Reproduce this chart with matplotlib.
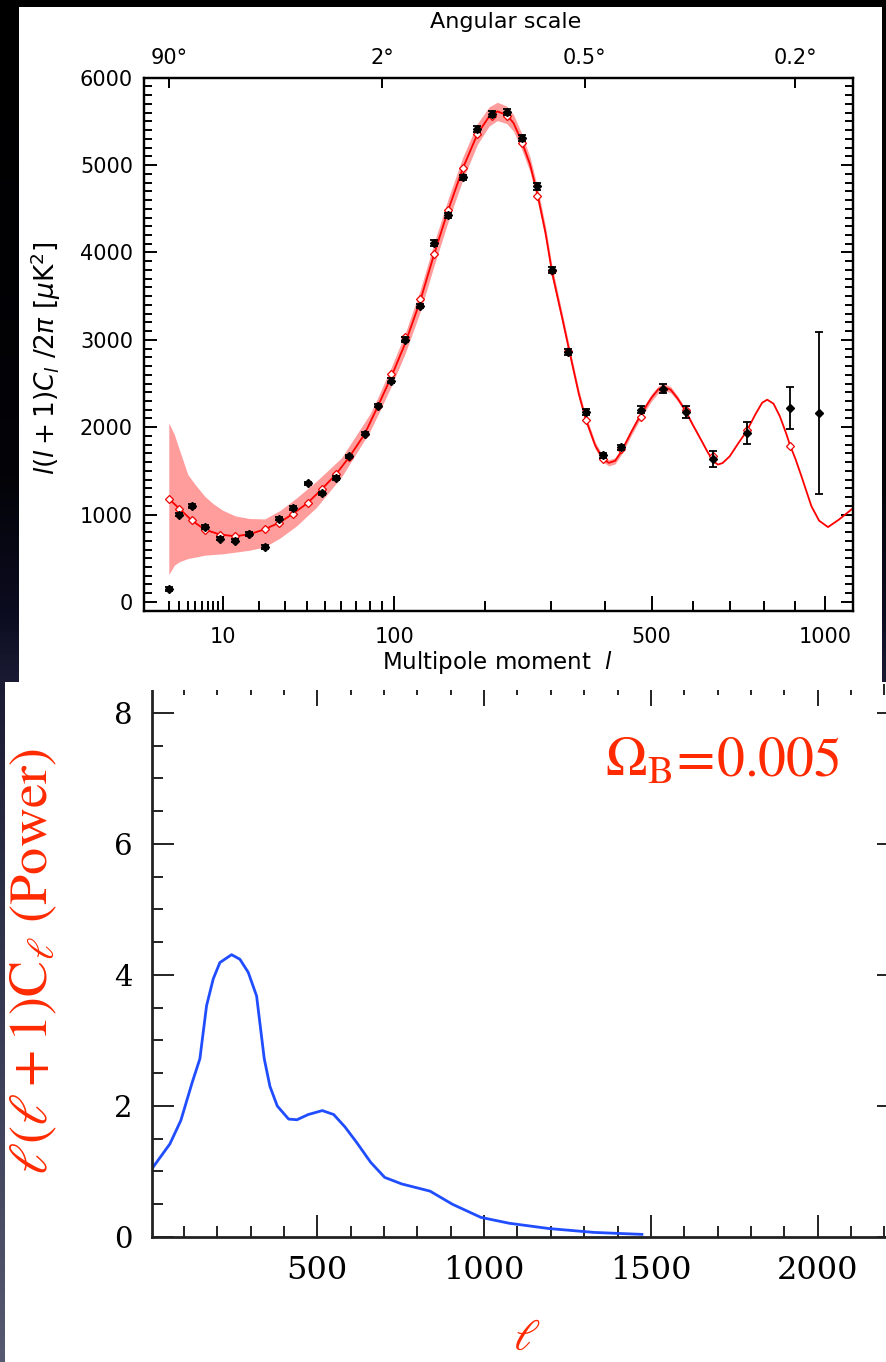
import numpy as np
import matplotlib
matplotlib.use('Agg')
import matplotlib.pyplot as plt
from matplotlib.colors import LinearSegmentedColormap
from matplotlib.patches import Rectangle
from matplotlib.ticker import NullLocator

# ---------------- top panel data (WMAP-style spectrum) ----------------
theory_l = [2, 3, 4.5, 6.5, 9.4, 13, 17, 22, 27.4, 33.4, 40.5, 48.2, 56.5, 65.2, 76, 86.3,
            97.6, 110, 124.3, 139, 154.5, 171.7, 189.9, 205.3, 216.6, 229.9, 240, 252.2, 265,
            276.6, 290, 301.4, 318.7, 332.5, 348.8, 361.3, 380, 395, 407, 420, 433, 455, 476,
            500, 515, 528, 545, 562, 582.6, 600, 620, 640, 655, 667, 680, 700, 725, 748.5,
            775, 795, 810.5, 830, 850, 870, 883, 900, 920, 953.5, 980, 1011, 1050, 1100]
theory_D = [1180, 1069, 935, 829, 772, 752, 775, 832, 906, 1009, 1134, 1294, 1461, 1660, 1919, 2239,
            2580, 2960, 3440, 3985, 4488, 4965, 5357, 5556, 5614, 5575, 5480, 5270, 5010,
            4679, 4230, 3764, 3250, 2840, 2380, 2100, 1790, 1640, 1592, 1615, 1720, 1950, 2150,
            2340, 2430, 2461, 2430, 2330, 2181, 2030, 1870, 1710, 1610, 1572, 1590, 1667, 1820, 1953,
            2150, 2280, 2315, 2270, 2125, 1930, 1790, 1640, 1440, 1096, 930, 857, 943, 1070]

band_l = [2, 2.5, 3, 4, 5, 6.5, 8, 10, 13, 17, 22, 28, 35, 45, 60, 80, 86.3,
          97.6, 110, 124.3, 139, 154.5, 171.7, 189.9, 205.3, 216.6, 229.9, 240, 252.2, 265,
          276.6, 290, 301.4, 318.7, 332.5, 348.8, 361.3, 380, 395, 407, 420, 433, 455, 476,
          500, 515, 528, 545, 562, 582.6, 600, 620, 640, 655]
band_hi = [2049, 1915, 1744, 1458, 1344, 1210, 1126, 1050, 985, 955, 950, 1050, 1190, 1380,
           1650, 2150, 2340, 2690, 3075, 3565, 4115, 4618, 5095, 5477, 5666, 5719, 5675, 5575,
           5360, 5095, 4759, 4305, 3834, 3310, 2895, 2430, 2145, 1830, 1675, 1627, 1650, 1755,
           1988, 2190, 2380, 2470, 2501, 2465, 2360, 2206, 2050, 1885, 1720, 1615]
band_lo = [314, 421, 460, 497, 513, 535, 543, 551, 570, 592, 630, 735, 870, 1080,
           1430, 1950, 2140, 2470, 2845, 3315, 3855, 4358, 4835, 5237, 5446, 5509, 5475, 5385,
           5180, 4925, 4599, 4155, 3694, 3190, 2785, 2330, 2055, 1750, 1605, 1557, 1580, 1685,
           1912, 2110, 2300, 2390, 2421, 2395, 2300, 2156, 2010, 1855, 1700, 1605]

data_l = [2, 3, 4.5, 6.5, 9.4, 13, 17, 22, 27.4, 33.4, 40.5, 48.2, 56.5, 65.2, 76, 86.3,
          97.6, 110.2, 124.3, 139, 154.5, 171.7, 189.9, 209.8, 229.9, 252.2, 276.6, 301.4,
          328.8, 361.3, 394.9, 433.2, 475.8, 525.6, 582.6, 654.8, 748.5, 883, 980]
data_D = [150, 1000, 1100, 860, 726, 703, 780, 631, 955, 1077, 1358, 1244, 1416, 1667, 1927, 2247,
          2533, 3002, 3390, 4107, 4423, 4862, 5414, 5582, 5612, 5308, 4755, 3802,
          2864, 2170, 1680, 1770, 2200, 2440, 2170, 1640, 1930, 2222, 2165]
data_err = [20, 20, 20, 20, 20, 20, 20, 20, 20, 20, 20, 20, 20, 20, 20, 20,
            25, 25, 25, 30, 30, 30, 35, 35, 35, 35, 35, 35,
            35, 35, 30, 30, 40, 50, 70, 90, 127, 238, 925]

diam_l = data_l[:-1]
diam_D = [1180, 1069, 935, 829, 772, 752, 775, 832, 906, 1009, 1134, 1294, 1461, 1660, 1919, 2239,
          2610, 3030, 3467, 3985, 4488, 4965, 5357, 5560, 5563, 5251, 4648, 3790,
          2870, 2087, 1640, 1745, 2118, 2440, 2201, 1675, 1972, 1782]

x_major = [10, 100, 500, 1000]
x_minor = [2, 3, 4, 5, 6, 7, 8, 9, 20, 30, 40, 50, 60, 70, 80, 90, 200, 300, 400,
           600, 700, 800, 900]
ang_deg = [90, 2, 0.5, 0.2]
ang_lab = ['90°', '2°', '0.5°', '0.2°']

# ---------------- bottom panel data (Omega_B = 0.005) ----------------
low_l = [4, 58, 91, 125, 148, 168, 188, 208, 243, 268, 293, 318, 341, 358, 380, 414, 439,
         473, 515, 549, 583, 617, 660, 702, 753, 838, 905, 990, 1075, 1193, 1329, 1473]
low_P = [1.04, 1.42, 1.78, 2.36, 2.72, 3.53, 3.94, 4.19, 4.31, 4.24, 4.04, 3.68, 2.72, 2.30,
         2.00, 1.80, 1.79, 1.87, 1.93, 1.87, 1.68, 1.45, 1.14, 0.91, 0.81, 0.70, 0.50,
         0.30, 0.21, 0.13, 0.07, 0.04]

W, H = 887, 1362
fig = plt.figure(figsize=(W / 100, H / 100), dpi=100)
fig.patch.set_facecolor('black')


def fr(x0, y0, x1, y1):
    return [x0 / W, 1 - y1 / H, (x1 - x0) / W, (y1 - y0) / H]


# background gradient
bga = fig.add_axes([0, 0, 1, 1], zorder=-10)
grad = np.linspace(0, 1, 512).reshape(-1, 1)
cmap = LinearSegmentedColormap.from_list('bgc', [(0, '#000000'), (0.35, '#030308'),
                                                 (0.45, '#0c0c20'), (0.5, '#1a1b33'),
                                                 (0.8, '#3e4159'), (1.0, '#555a70')])
bga.imshow(grad, aspect='auto', cmap=cmap, extent=[0, 1, 0, 1], origin='upper')
bga.set_axis_off()

# white panels
fig.add_artist(Rectangle((5 / W, 0), 882 / W, 680 / H, transform=fig.transFigure,
                         facecolor='white', edgecolor='none', zorder=0))
fig.add_artist(Rectangle((19 / W, 1 - 690 / H), 863 / W, 683 / H, transform=fig.transFigure,
                         facecolor='white', edgecolor='none', zorder=2))

# ---------------- bottom axes ----------------
serif = 'DejaVu Serif'
axb = fig.add_axes(fr(151.7, 683.5, 899, 1237), zorder=1)
axb.set_facecolor('none')
axb.plot(low_l, low_P, color='#1f4dff', lw=2)
axb.set_xlim(3.6, 2243.6)
axb.set_ylim(0, 8.45)
axb.set_xticks([500, 1000, 1500, 2000])
axb.set_xticklabels(['500', '1000', '1500', '2000'], fontfamily=serif, fontsize=23)
axb.set_xticks(np.arange(100, 2201, 100), minor=True)
axb.set_yticks([0, 2, 4, 6, 8])
axb.set_yticklabels(['0', '2', '4', '6', '8'], fontfamily=serif, fontsize=21)
axb.set_yticks(np.arange(0.5, 8.45, 0.5), minor=True)
axb.tick_params(which='both', direction='in', top=True, right=True, width=1.4, color='#222222')
axb.tick_params(which='major', length=16)
axb.tick_params(which='minor', length=8)
axb.tick_params(axis='x', which='major', pad=13)
axb.tick_params(axis='y', which='major', pad=14)
axb.spines['top'].set_visible(False)
for s in ['left', 'bottom', 'right']:
    axb.spines[s].set_linewidth(2)
    axb.spines[s].set_color('#222222')

red2 = '#ff2a00'
fig.text(605 / W, 1 - 777 / H, r'$\Omega_{\mathrm{B}}\!=\!0.005$', color=red2, fontsize=40,
         math_fontfamily='stix', ha='left', va='baseline', zorder=10)
fig.text(33 / W, 1 - 962 / H, r'$\ell(\ell+1)\mathrm{C}_\ell\ (\mathrm{Power})$', color=red2,
         fontsize=39, math_fontfamily='stix', rotation=90, ha='center', va='center', zorder=10)
fig.text(527 / W, 1 - 1359 / H, r'$\ell$', color=red2, fontsize=32, math_fontfamily='stix',
         ha='center', va='bottom', zorder=10)

# ---------------- top axes ----------------
def fwd(x):
    return np.power(np.clip(x, 1e-9, None), 0.4)


def inv(x):
    return np.power(np.clip(x, 0, None), 2.5)


ax = fig.add_axes(fr(144, 77.7, 852.7, 610.7), zorder=3)
ax.set_facecolor('none')
ax.set_xscale('function', functions=(fwd, inv))
ax.fill_between(band_l, band_lo, band_hi, color='#ff9c9c', lw=0, zorder=1)
ax.plot(theory_l, theory_D, color='#ff0000', lw=1.3, zorder=2)
ax.plot(diam_l, diam_D, ls='none', marker='D', ms=4.5, mec='#ee0000', mfc='white', mew=0.9,
        zorder=3)
ax.errorbar(data_l, data_D, yerr=data_err, fmt='D', ms=4.5, color='black', ecolor='black',
            elinewidth=1.3, capsize=3, capthick=1.3, zorder=4)
ax.set_xlim(0.52, 1100)
ax.set_ylim(-100, 6000)
ax.set_xticks(x_major)
ax.set_xticklabels([str(v) for v in x_major], fontsize=15)
ax.set_xticks(x_minor, minor=True)
ax.set_xticklabels([], minor=True)
ax.set_yticks(range(0, 6001, 1000))
ax.set_yticklabels([str(v) for v in range(0, 6001, 1000)], fontsize=15)
ax.set_yticks(np.arange(-100, 6001, 100), minor=True)
ax.tick_params(axis='x', which='major', direction='in', length=11, width=1.4, top=False, pad=12)
ax.tick_params(axis='x', which='minor', direction='in', length=7.5, width=1.4, top=False)
ax.tick_params(axis='y', which='major', direction='in', length=9, width=1.4, right=True, pad=8)
ax.tick_params(axis='y', which='minor', direction='in', length=5.5, width=1.4, right=True)
for s in ax.spines.values():
    s.set_linewidth(1.6)

axt = ax.twiny()
axt.set_zorder(3.5)
axt.patch.set_visible(False)
axt.set_xscale('function', functions=(fwd, inv))
axt.set_xlim(ax.get_xlim())
axt.set_xticks([180.0 / d for d in ang_deg])
axt.set_xticklabels(ang_lab, fontsize=15)
axt.xaxis.set_minor_locator(NullLocator())
axt.tick_params(axis='x', direction='in', length=7.5, width=1.4, pad=7)
for s in axt.spines.values():
    s.set_linewidth(1.6)

fig.text(506 / W, 1 - 22 / H, 'Angular scale', fontsize=16, ha='center', va='center', zorder=10)
fig.text(498 / W, 1 - 663 / H, 'Multipole moment  $l$', fontsize=16.5, ha='center', va='center',
         zorder=10)
fig.text(46 / W, 1 - 358 / H, r'$l(l+1)C_l\ /2\pi\ [\mu\mathrm{K}^2]$', fontsize=19,
         rotation=90, ha='center', va='center', zorder=10)

fig.savefig('out.png', dpi=100, facecolor=fig.get_facecolor())
